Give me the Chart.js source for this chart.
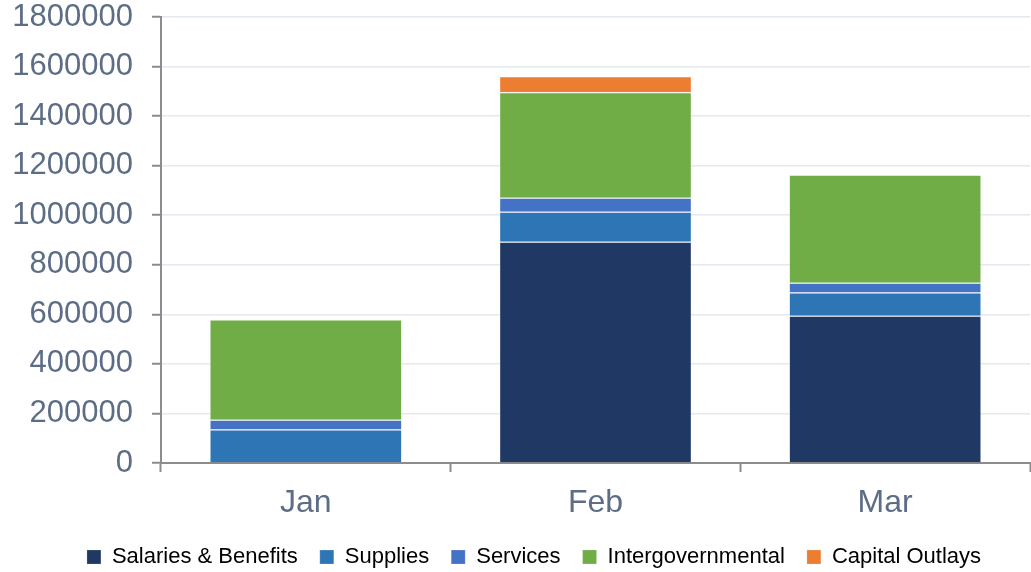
<!DOCTYPE html>
<html>
<head>
<meta charset="utf-8">
<script src="https://cdn.jsdelivr.net/npm/chart.js@4.4.1/dist/chart.umd.min.js"></script>
<style>
  html, body { margin: 0; padding: 0; background: #ffffff; }
  #wrap { width: 1031px; height: 572px; position: relative; }
</style>
</head>
<body>
<div id="wrap"><canvas id="expenseChart"></canvas></div>
<script>
// DATA
const months = ['Jan', 'Feb', 'Mar'];

const salaries = [0, 893000, 594000];
const supplies = [135000, 121000, 94000];
const services = [40000, 57000, 39000];
const intergovernmental = [404000, 425000, 436000];
const capitalOutlays = [0, 65000, 0];

const yTicks = [0, 200000, 400000, 600000, 800000, 1000000, 1200000, 1400000, 1600000, 1800000];

const axisGray = '#8c8c8c';
const labelColor = '#5d6d86';

function series(label, data, color) {
    return {
        label: label,
        data: data,
        backgroundColor: color,
        borderColor: 'rgba(255,255,255,0.2)',
        borderWidth: 1,
        barPercentage: 0.665,
        categoryPercentage: 1.0
    };
}

// the original legend sits a little right of the canvas centre
const legendShift = {
    id: 'legendShift',
    afterLayout(chart) {
        chart.legend.left += 38;
    }
};

const ctx = document.getElementById('expenseChart');

new Chart(ctx, {
    type: 'bar',

    data: {
        labels: months,
        datasets: [
            series('Salaries & Benefits', salaries, '#203864'),
            series('Supplies', supplies, '#2e75b6'),
            series('Services', services, '#4472c4'),
            series('Intergovernmental', intergovernmental, '#70ad47'),
            series('Capital Outlays', capitalOutlays, '#ed7d31')
        ]
    },

    plugins: [legendShift],

    options: {
        responsive: true,
        maintainAspectRatio: false,
        animation: false,

        layout: {
            padding: { top: 17, right: 1, bottom: -6, left: 0 }
        },

        plugins: {
            legend: {
                display: true,
                position: 'bottom',
                labels: {
                    boxWidth: 14,
                    boxHeight: 14,
                    padding: 22,
                    color: '#000000',
                    font: { family: '"Liberation Sans", Arial, sans-serif', size: 22 }
                }
            },
            tooltip: { enabled: false }
        },

        scales: {
            x: {
                stacked: true,
                afterFit: function(scale) {
                    scale.height = 61;
                    scale.paddingLeft = 0;
                    scale.paddingRight = 0;
                },
                border: { display: true, color: axisGray, width: 2 },
                grid: {
                    display: true,
                    drawOnChartArea: false,
                    drawTicks: true,
                    tickLength: 9,
                    tickColor: axisGray,
                    tickWidth: 2,
                    offset: true
                },
                ticks: {
                    color: labelColor,
                    padding: 12,
                    font: { family: '"Liberation Sans", Arial, sans-serif', size: 32 }
                }
            },

            y: {
                stacked: true,
                min: 0,
                max: 1800000,
                afterFit: function(scale) {
                    scale.width = 161;
                    scale.paddingTop = 0;
                    scale.paddingBottom = 0;
                },
                afterBuildTicks: function(scale) {
                    scale.ticks = yTicks.map(v => ({ value: v }));
                },
                border: { display: true, color: axisGray, width: 2 },
                grid: {
                    color: '#e4e9f0',
                    lineWidth: 1.5,
                    drawTicks: true,
                    tickLength: 9,
                    tickColor: axisGray,
                    tickWidth: 2
                },
                ticks: {
                    color: labelColor,
                    padding: 19,
                    font: { family: '"Liberation Sans", Arial, sans-serif', size: 31 },
                    callback: function(value) { return String(value); }
                }
            }
        }
    }
});
</script>
</body>
</html>
